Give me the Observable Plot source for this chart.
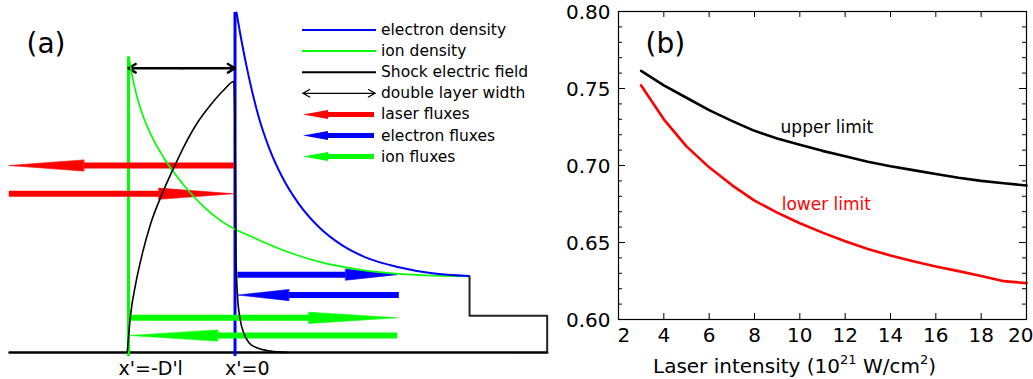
<!DOCTYPE html>
<html>
<head>
<meta charset="utf-8">
<script src="https://cdn.jsdelivr.net/npm/d3@7"></script>
<script src="https://cdn.jsdelivr.net/npm/@observablehq/plot@0.6"></script>
<style>
  html, body { margin: 0; padding: 0; background: #ffffff; }
  #wrap { position: relative; width: 1033px; height: 379px; overflow: hidden; background: #fff; font-family: "DejaVu Sans", sans-serif; }
  #panelA { position: absolute; left: 0; top: 0; }
  #legendA { position: absolute; left: 0; top: 0; pointer-events: none; }
  #panelB { position: absolute; left: 560px; top: 0; }
  #xlabelB { position: absolute; left: 653px; top: 356px; font-size: 20px; line-height: 20px; white-space: nowrap; color: #000; }
  #xlabelB .sup { font-size: 13px; position: relative; top: -9px; }
</style>
</head>
<body>
<div id="wrap">
  <div id="panelA"></div>
  <svg id="legendA" width="560" height="379"></svg>
  <div id="panelB"></div>
  <div id="xlabelB">Laser intensity (10<span class="sup">21</span> W/cm<span class="sup">2</span>)</div>
</div>
<script>
// ===================== Panel (b) data =====================
const intensity  = [3, 4, 5, 6, 7, 8, 9, 10, 11, 12, 13, 14, 15, 16, 17, 18, 19, 20];
const upperLimit = [0.7615, 0.752, 0.744, 0.736, 0.729, 0.7225, 0.7175, 0.7135, 0.7095, 0.706, 0.7025, 0.6995, 0.697, 0.6945, 0.692, 0.690, 0.6885, 0.687];
const lowerLimit = [0.752, 0.730, 0.7124, 0.6988, 0.6873, 0.6772, 0.6694, 0.6625, 0.6564, 0.6508, 0.6458, 0.6415, 0.6378, 0.6344, 0.6314, 0.6283, 0.6249, 0.6236];
const xTickValues = [2, 4, 6, 8, 10, 12, 14, 16, 18, 20];
const yTickValues = [0.60, 0.65, 0.70, 0.75, 0.80];
const yMinorTickValues = [0.61, 0.62, 0.63, 0.64, 0.66, 0.67, 0.68, 0.69, 0.71, 0.72, 0.73, 0.74, 0.76, 0.77, 0.78, 0.79];
const curveLabels = ["upper limit", "lower limit"];
const curveLabelX = [9.15, 9.2];
const curveLabelY = [0.7247, 0.6747];

// ===================== Panel (a) data (x' in units of D'l, n normalised) =====================
const electronDensityX = [0.014, 0.068, 0.130, 0.223, 0.317, 0.443, 0.599, 0.787, 1.007, 1.256, 1.538, 1.852, 2.195];
const electronDensityN = [1.000, 0.905, 0.810, 0.692, 0.604, 0.516, 0.437, 0.369, 0.315, 0.276, 0.251, 0.233, 0.225];
const ionDensityX = [-0.997, -0.950, -0.887, -0.793, -0.669, -0.575, -0.449, -0.293, -0.136, 0.005, 0.146, 0.223, 0.537, 0.850, 1.162, 1.476, 1.789, 2.195];
const ionDensityN = [0.869, 0.790, 0.717, 0.643, 0.573, 0.530, 0.480, 0.428, 0.388, 0.362, 0.342, 0.331, 0.291, 0.262, 0.244, 0.233, 0.227, 0.224];
const shockFieldX = [-1.012, -0.981, -0.934, -0.871, -0.793, -0.684, -0.580, -0.481, -0.355, -0.230, -0.105, -0.011, 0.002, 0.009, 0.023, 0.047, 0.080, 0.131, 0.211, 0.333, 0.493];
const shockFieldE = [0.000, 0.110, 0.200, 0.290, 0.378, 0.467, 0.540, 0.605, 0.675, 0.728, 0.772, 0.797, 0.600, 0.285, 0.168, 0.100, 0.059, 0.029, 0.013, 0.004, 0.000];
const baselineX = [-2.117, 2.931];
const baselineN = [0, 0];
const targetX = [2.202, 2.202, 2.931, 2.931];
const targetN = [0.224, 0.108, 0.108, 0.000];
const frontKind = ["ion", "electron"];
const frontX = [-1, 0];
const frontTop = [0.869, 1.0];
const frontBottom = [-0.012, -0.012];
const doubleLayerStart = -1, doubleLayerEnd = 0, doubleLayerLevel = 0.836;
const fluxKind = ["laser", "laser", "electron", "electron", "ion", "ion"];
const fluxLevel = [0.550, 0.467, 0.229, 0.169, 0.102, 0.050];
const fluxTail = [-0.011, -2.124, 0.023, 1.538, -0.981, 1.523];
const fluxHeadBase = [-1.420, -0.716, 1.038, 0.505, 0.693, -0.163];
const fluxTip = [-2.124, -0.011, 1.523, 0.028, 1.523, -0.991];
const positionLabels = ["x'=-D'l", "x'=0"];
const positionX = [-1, 0];
const legendLabels = ["electron density", "ion density", "Shock electric field", "double layer width", "laser fluxes", "electron fluxes", "ion fluxes"];
const legendKeys = ["electron", "ion", "shock", "double", "laser", "electron", "ion"];
const legendTypes = ["line", "line", "line", "double", "flux", "flux", "flux"];

// ===================== styles =====================
const colors = { electron: "#0000ff", ion: "#00ff00", laser: "#ff0000", shock: "#000000", double: "#000000" };
const FONT = "DejaVu Sans";

// ===================== Panel (a) =====================
const AW = 560, AH = 379;
const xDomA = [-2.202, 3.056], yDomA = [-0.0794, 1.0353];
const nPerPx = (yDomA[1] - yDomA[0]) / AH;
const headHalf = 5.6 * nPerPx;

const fluxes = fluxKind.map((k, i) => ({ kind: k, level: fluxLevel[i], tail: fluxTail[i], base: fluxHeadBase[i], tip: fluxTip[i], id: i }));
const heads = fluxes.flatMap(f => [
  { id: f.id, kind: f.kind, x: f.base, y: f.level + headHalf },
  { id: f.id, kind: f.kind, x: f.tip, y: f.level },
  { id: f.id, kind: f.kind, x: f.base, y: f.level - headHalf }
]);
const fronts = frontKind.map((k, i) => ({ kind: k, x: frontX[i], top: frontTop[i], bottom: frontBottom[i] }));
const dlMid = (doubleLayerStart + doubleLayerEnd) / 2;
const dlArrows = [
  { x1: dlMid, x2: doubleLayerStart, y: doubleLayerLevel },
  { x1: dlMid, x2: doubleLayerEnd, y: doubleLayerLevel }
];

const headMarks = ["laser", "electron", "ion"].map(k =>
  Plot.line(heads.filter(h => h.kind === k), { x: "x", y: "y", z: "id", fill: colors[k], stroke: colors[k], strokeWidth: 0.6, curve: "linear-closed" })
);

const plotA = Plot.plot({
  width: AW, height: AH, margin: 0,
  style: { fontFamily: FONT, background: "transparent", color: "#000", overflow: "visible" },
  x: { domain: xDomA, axis: null },
  y: { domain: yDomA, axis: null },
  color: { type: "identity" },
  marks: [
    Plot.line(baselineX, { x: baselineX, y: baselineN, stroke: "#000", strokeWidth: 2.5 }),
    Plot.line(targetX, { x: targetX, y: targetN, stroke: "#222", strokeWidth: 2 }),
    Plot.ruleX(fronts, { x: "x", y1: "bottom", y2: "top", stroke: d => colors[d.kind], strokeWidth: 3 }),
    Plot.link(fluxes, { x1: "tail", x2: "base", y1: "level", y2: "level", stroke: d => colors[d.kind], strokeWidth: 6 }),
    ...headMarks,
    Plot.arrow(dlArrows, { x1: "x1", x2: "x2", y1: "y", y2: "y", stroke: "#000", strokeWidth: 2.5, headLength: 5, headAngle: 62 }),
    Plot.line(ionDensityX, { x: ionDensityX, y: ionDensityN, stroke: colors.ion, strokeWidth: 1.7, curve: "monotone-x" }),
    Plot.line(electronDensityX, { x: electronDensityX, y: electronDensityN, stroke: colors.electron, strokeWidth: 2, curve: "monotone-x" }),
    Plot.line(shockFieldX, { x: shockFieldX, y: shockFieldE, stroke: "#000", strokeWidth: 1.6, curve: "monotone-x" }),
    Plot.text(positionLabels, { x: positionX, y: d => 0, text: d => d, dx: -10, dy: 22, textAnchor: "start", lineAnchor: "bottom", fontSize: 19, fill: "#000" }),
    Plot.text(["(a)"], { frameAnchor: "top-left", dx: 26, dy: 44, textAnchor: "start", lineAnchor: "middle", fontSize: 28, fill: "#000" })
  ]
});
document.getElementById("panelA").appendChild(plotA);

// legend for panel (a)
(function drawLegend() {
  const svg = d3.select("#legendA");
  const y0 = 30, step = 21.1, xs = 302, xe = 376, xt = 381;
  legendLabels.forEach((lab, i) => {
    const y = y0 + i * step;
    const c = colors[legendKeys[i]];
    const g = svg.append("g");
    if (legendTypes[i] === "line") {
      g.append("line").attr("x1", xs).attr("x2", xe).attr("y1", y).attr("y2", y).attr("stroke", c).attr("stroke-width", 2);
    } else if (legendTypes[i] === "double") {
      g.append("line").attr("x1", xs + 1).attr("x2", xe - 1).attr("y1", y).attr("y2", y).attr("stroke", c).attr("stroke-width", 1.3);
      g.append("path").attr("d", `M${xs + 8},${y - 4}L${xs + 1},${y}L${xs + 8},${y + 4}`).attr("fill", "none").attr("stroke", c).attr("stroke-width", 1.3);
      g.append("path").attr("d", `M${xe - 8},${y - 4}L${xe - 1},${y}L${xe - 8},${y + 4}`).attr("fill", "none").attr("stroke", c).attr("stroke-width", 1.3);
    } else {
      const tip = xs + 1, base = xs + 26;
      g.append("line").attr("x1", base).attr("x2", xe - 2).attr("y1", y).attr("y2", y).attr("stroke", c).attr("stroke-width", 5);
      g.append("path").attr("d", `M${base},${y - 4.5}L${tip},${y}L${base},${y + 4.5}Z`).attr("fill", c);
    }
    g.append("text").attr("x", xt).attr("y", y + 5).attr("font-family", FONT).attr("font-size", 15.5).attr("fill", "#000").text(lab);
  });
})();

// ===================== Panel (b) =====================
const BW = 473, BH = 379, bL = 58, bR = 7, bT = 11, bB = 60;
const frameH = BH - bT - bB, frameW = BW - bL - bR;
const majorLen = 7, minorLen = 4, xTickLen = 6;
const plotB = Plot.plot({
  width: BW, height: BH, marginLeft: bL, marginRight: bR, marginTop: bT, marginBottom: bB,
  style: { fontFamily: FONT, fontSize: "20px", background: "transparent", color: "#000", overflow: "visible" },
  x: { domain: [2, 20], axis: null },
  y: { domain: [0.60, 0.80], axis: null },
  marks: [
    Plot.line(intensity, { x: intensity, y: upperLimit, stroke: "#000", strokeWidth: 2.6 }),
    Plot.line(intensity, { x: intensity, y: lowerLimit, stroke: "#ff0000", strokeWidth: 2.6 }),
    Plot.frame({ stroke: "#000", strokeWidth: 1.2 }),
    Plot.tickX(xTickValues, { x: d => d, insetTop: frameH - xTickLen, stroke: "#000", strokeWidth: 1 }),
    Plot.tickX(xTickValues, { x: d => d, insetBottom: frameH - xTickLen, stroke: "#000", strokeWidth: 1 }),
    Plot.tickY(yTickValues, { y: d => d, insetRight: frameW - majorLen, stroke: "#000", strokeWidth: 1 }),
    Plot.tickY(yTickValues, { y: d => d, insetLeft: frameW - majorLen, stroke: "#000", strokeWidth: 1 }),
    Plot.tickY(yMinorTickValues, { y: d => d, insetRight: frameW - minorLen, stroke: "#000", strokeWidth: 1 }),
    Plot.tickY(yMinorTickValues, { y: d => d, insetLeft: frameW - minorLen, stroke: "#000", strokeWidth: 1 }),
    Plot.text(yTickValues, { y: d => d, frameAnchor: "left", textAnchor: "end", dx: -8, dy: 1, lineAnchor: "middle", text: d => d.toFixed(2), fontSize: 20, fill: "#000" }),
    Plot.text(xTickValues.slice(0, 1), { x: d => d, frameAnchor: "bottom", textAnchor: "start", dx: -1, dy: 16, lineAnchor: "middle", text: d => String(d), fontSize: 20, fill: "#000" }),
    Plot.text(xTickValues.slice(1, -1), { x: d => d, frameAnchor: "bottom", textAnchor: "middle", dy: 16, lineAnchor: "middle", text: d => String(d), fontSize: 20, fill: "#000" }),
    Plot.text(xTickValues.slice(-1), { x: d => d, frameAnchor: "bottom", textAnchor: "end", dx: 7, dy: 16, lineAnchor: "middle", text: d => String(d), fontSize: 20, fill: "#000" }),
    Plot.text(curveLabels, { x: curveLabelX, y: curveLabelY, text: d => d, textAnchor: "start", lineAnchor: "middle", fontSize: 17, fill: (d, i) => i === 0 ? "#000" : "#ff0000" }),
    Plot.text(["(b)"], { frameAnchor: "top-left", dx: 27, dy: 33, textAnchor: "start", lineAnchor: "middle", fontSize: 28, fill: "#000" })
  ]
});
document.getElementById("panelB").appendChild(plotB);
</script>
</body>
</html>
